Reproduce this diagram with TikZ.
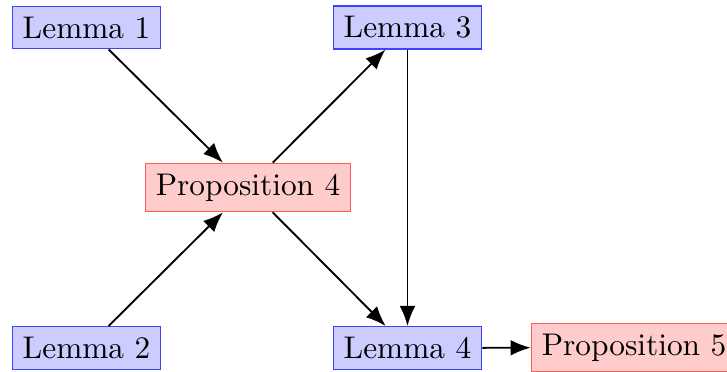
\documentclass[tikz,border=0pt]{standalone}
\usetikzlibrary{arrows.meta}
\begin{document}
\begin{tikzpicture}[x=0.319pt,y=-0.319pt,
  lem/.style={draw=blue!75, fill=blue!20, line width=0.4pt, inner sep=3.33pt},
  prop/.style={draw=red!65, fill=red!20, line width=0.4pt, inner sep=3.33pt},
  arr/.style={-{Latex[length=6.4pt,width=5pt]}, line width=0.6pt}]
\useasboundingbox (0,0) rectangle (727,372);
\node[lem] (l1) at (86.5,27.5) {Lemma 1};
\node[lem] (l3) at (407.5,27.5) {Lemma 3};
\node[prop] (p4) at (248,187.5) {Proposition 4};
\node[lem] (l2) at (86.5,348) {Lemma 2};
\node[lem] (l4) at (407.5,348) {Lemma 4};
\node[prop] (p5) at (634,347.5) {Proposition 5};
\draw[arr] (l1) -- (p4);
\draw[arr] (l2) -- (p4);
\draw[arr] (p4) -- (l3);
\draw[arr] (p4) -- (l4);
\draw[arr] (l3) -- (l4);
\draw[arr] (l4) -- (p5);
\end{tikzpicture}
\end{document}
